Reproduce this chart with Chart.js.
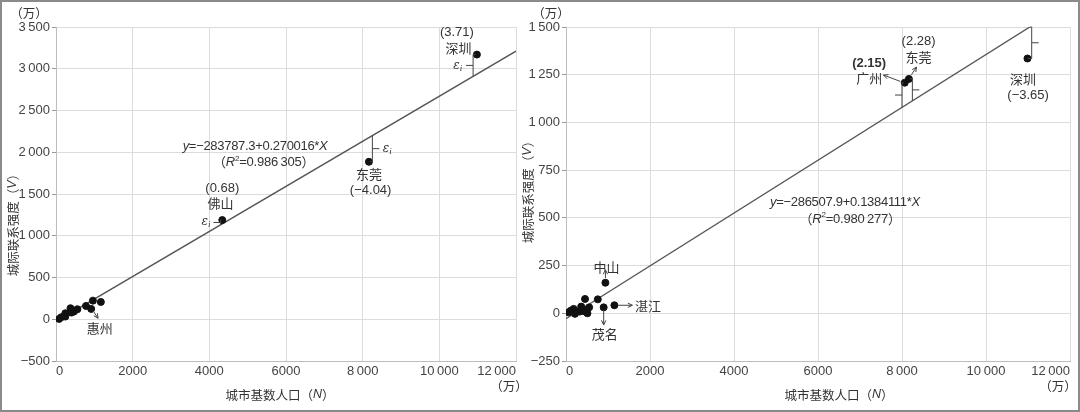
<!DOCTYPE html>
<html>
<head>
<meta charset="utf-8">
<script src="https://cdn.jsdelivr.net/npm/chart.js@4.4.1/dist/chart.umd.min.js"></script>
<style>
html, body { margin: 0; padding: 0; background: #fff; }
#frame { position: absolute; left: 0; top: 0; width: 1076px; height: 408px; border: 2px solid #8a8a8a; }
#c1 { position: absolute; left: 0; top: 0; }
#c2 { position: absolute; left: 500px; top: 0; }
</style>
</head>
<body>
<div id="frame"></div>
<canvas id="c1" width="540" height="412" style="width:540px;height:412px"></canvas>
<canvas id="c2" width="580" height="412" style="width:580px;height:412px"></canvas>
<script>
// tick values and labels
const xTickValues = [0, 2000, 4000, 6000, 8000, 10000, 12000];
const xTickText = ['0', '2000', '4000', '6000', '8\u2009000', '10\u2009000', '12\u2009000'];
const leftYTickValues = [-500, 0, 500, 1000, 1500, 2000, 2500, 3000, 3500];
const leftYTickText = ['\u2212500', '0', '500', '1\u2009000', '1\u2009500', '2\u2009000', '2\u2009500', '3\u2009000', '3\u2009500'];
const rightYTickValues = [-250, 0, 250, 500, 750, 1000, 1250, 1500];
const rightYTickText = ['\u2212250', '0', '250', '500', '750', '1\u2009000', '1\u2009250', '1\u2009500'];

// left panel: city population (N) vs link strength (V)
const leftX = [81, 135, 243, 243, 378, 405, 468, 558, 783, 963, 918, 1170, 4338, 8163, 10980];
const leftY = [4, 24, 72, 32, 132, 80, 92, 120, 159, 223, 124, 207, 1188, 1886, 3170];
const leftFitX = [0, 12000];
const leftFitY = [-28.4, 3211.8];

// right panel
const rightX = [58, 115, 181, 214, 263, 329, 362, 387, 453, 453, 510, 551, 757, 897, 938, 1152, 8065, 8164, 10987];
const rightY = [5, 14, 23, -3, 9, 9, 35, 21, 75, 9, 0, 31, 73, 31, 160, 42, 1208, 1228, 1335];
const rightFitX = [0, 11044];
const rightFitY = [-28.7, 1500];

const NUM = '13px "Liberation Sans", Arial, sans-serif';
const NUMB = 'bold 13px "Liberation Sans", Arial, sans-serif';
const IT = 'italic 13px "Liberation Sans", Arial, sans-serif';
const SUP = '8px "Liberation Sans", Arial, sans-serif';
const CJK = '13px "Noto Sans CJK SC", sans-serif';
const TIT = '12.5px "Noto Sans CJK SC", sans-serif';
const TITIT = 'italic 12.5px "Liberation Sans", Arial, sans-serif';

const pts = (xs, ys) => xs.map((x, i) => ({ x: x, y: ys[i] }));

function drawRich(ctx, parts, x, y, align) {
    let w = 0;
    parts.forEach(p => { ctx.font = p[1]; w += ctx.measureText(p[0]).width; });
    let cx = align === 'center' ? x - w / 2 : (align === 'right' ? x - w : x);
    parts.forEach(p => {
        ctx.font = p[1];
        ctx.fillText(p[0], cx, y + (p[2] || 0));
        cx += ctx.measureText(p[0]).width;
    });
}

function arrow(ctx, x1, y1, x2, y2) {
    const a = Math.atan2(y2 - y1, x2 - x1);
    ctx.beginPath();
    ctx.moveTo(x1, y1);
    ctx.lineTo(x2, y2);
    ctx.moveTo(x2 - 5 * Math.cos(a - 0.45), y2 - 5 * Math.sin(a - 0.45));
    ctx.lineTo(x2, y2);
    ctx.lineTo(x2 - 5 * Math.cos(a + 0.45), y2 - 5 * Math.sin(a + 0.45));
    ctx.stroke();
}

const eqParts = (a, b) => [['y', IT], ['=\u2212' + a + '+' + b + '*', NUM], ['X', IT]];
const r2Parts = (r) => [['\uff08', CJK], ['R', IT], ['2', SUP, -4], ['=' + r, NUM], ['\uff09', CJK]];

function makeNotes(notes) {
    return {
        id: 'notes',
        afterDatasetsDraw(chart) {
            const ctx = chart.ctx;
            const sx = v => chart.scales.x.getPixelForValue(v);
            const sy = v => chart.scales.y.getPixelForValue(v);
            ctx.save();
            ctx.fillStyle = '#333';
            ctx.strokeStyle = '#444';
            ctx.lineWidth = 1;
            ctx.textBaseline = 'middle';
            ctx.textAlign = 'left';
            notes.texts.forEach(t => {
                ctx.letterSpacing = t.ls || '0px';
                drawRich(ctx, t.parts, sx(t.x), sy(t.y), 'center');
            });
            ctx.letterSpacing = '0px';
            notes.eps.forEach(e => {
                drawRich(ctx, [['\u03b5', 'italic 12px "DejaVu Serif", serif'], ['i', 'italic 9px "Liberation Serif", serif', 3]], sx(e.x), sy(e.y), 'center');
            });
            notes.brackets.forEach(b => {
                const bx = sx(b.x), p1 = sy(b.y1), p2 = sy(b.y2);
                ctx.beginPath();
                if (b.h1 !== undefined) { ctx.moveTo(sx(b.h1), p1); ctx.lineTo(bx, p1); } else { ctx.moveTo(bx, p1); }
                ctx.lineTo(bx, p2);
                if (b.h2 !== undefined) ctx.lineTo(sx(b.h2), p2);
                const my = (p1 + p2) / 2;
                ctx.moveTo(bx, my);
                ctx.lineTo(bx + b.tick * 7, my);
                ctx.stroke();
            });
            notes.arrows.forEach(a => arrow(ctx, sx(a[0]), sy(a[1]), sx(a[2]), sy(a[3])));
            // axis titles and units (canvas pixels)
            const tt = notes.titles;
            drawRich(ctx, [['\u57ce\u5e02\u57fa\u6570\u4eba\u53e3\uff08', TIT], ['N', TITIT], ['\uff09', TIT]], tt.xt[0], tt.xt[1], 'center');
            ctx.save();
            ctx.translate(tt.yt[0], tt.yt[1]);
            ctx.rotate(-Math.PI / 2);
            drawRich(ctx, [['\u57ce\u9645\u8054\u7cfb\u5f3a\u5ea6\uff08', TIT], ['V', TITIT], ['\uff09', TIT]], 0, 0, 'center');
            ctx.restore();
            drawRich(ctx, [['\uff08\u4e07\uff09', TIT]], tt.u1[0], tt.u1[1], 'center');
            drawRich(ctx, [['\uff08\u4e07\uff09', TIT]], tt.u2[0], tt.u2[1], 'center');
            ctx.restore();
        }
    };
}

const leftNotes = {
    texts: [
        { x: 10458, y: 3433, parts: [['(3.71)', NUM]] },
        { x: 10503, y: 3249, parts: [['\u6df1\u5733', CJK]] },
        { x: 8163, y: 1738, parts: [['\u4e1c\u839e', CJK]] },
        { x: 8208, y: 1547, parts: [['(\u22124.04)', NUM]] },
        { x: 4338, y: 1567, parts: [['(0.68)', NUM]] },
        { x: 4293, y: 1387, parts: [['\u4f5b\u5c71', CJK]] },
        { x: 1143, y: -108, parts: [['\u60e0\u5dde', CJK]] },
        { x: 5193, y: 2073, parts: eqParts('283787.3', '0.270016'), ls: '-0.3px' },
        { x: 5418, y: 1878, parts: r2Parts('0.986\u2009305'), ls: '-0.2px' }
    ],
    eps: [{ x: 10480, y: 3040 }, { x: 8640, y: 2043 }, { x: 3915, y: 1172 }],
    brackets: [
        { x: 10881, y1: 3170, y2: 2910, h1: 10950, tick: -1 },
        { x: 8253, y1: 2200, y2: 1886, h2: 8190, tick: 1 },
        { x: 4290, y1: 1188, y2: 1130, h1: 4320, tick: -1 }
    ],
    arrows: [[960, 105, 1098, 12]],
    titles: { xt: [280, 395], yt: [13, 222], u1: [29, 13], u2: [509, 386] }
};

const rightNotes = {
    texts: [
        { x: 8395, y: 1422, parts: [['(2.28)', NUM]] },
        { x: 8395, y: 1340, parts: [['\u4e1c\u839e', CJK]] },
        { x: 7218, y: 1309, parts: [['(2.15)', NUMB]] },
        { x: 7218, y: 1234, parts: [['\u5e7f\u5dde', CJK]] },
        { x: 10880, y: 1225, parts: [['\u6df1\u5733', CJK]] },
        { x: 11003, y: 1143, parts: [['(\u22123.65)', NUM]] },
        { x: 963, y: 244, parts: [['\u4e2d\u5c71', CJK]] },
        { x: 1950, y: 40, parts: [['\u6e5b\u6c5f', CJK]] },
        { x: 922, y: -110, parts: [['\u8302\u540d', CJK]] },
        { x: 6642, y: 581, parts: eqParts('286507.9', '0.1384111'), ls: '-0.3px' },
        { x: 6765, y: 494, parts: r2Parts('0.980\u2009277'), ls: '-0.2px' }
    ],
    eps: [],
    brackets: [
        { x: 8000, y1: 1208, y2: 1079, h1: 8040, tick: -1 },
        { x: 8247, y1: 1228, y2: 1113, h1: 8190, tick: 1 },
        { x: 11088, y1: 1500, y2: 1335, h1: 11044, h2: 10990, tick: 1 }
    ],
    arrows: [[8225, 1250, 8345, 1290], [7960, 1215, 7560, 1248], [938, 185, 938, 228], [1240, 42, 1580, 42], [897, 18, 897, -61]],
    titles: { xt: [339, 395], yt: [28, 189], u1: [51, 13], u2: [558, 386] }
};

const tickFont = { family: '"Liberation Sans", Arial, sans-serif', size: 13 };

const crearPanel = (id, xs, ys, fx, fy, yMin, yMax, yVals, yText, yWidth, padRight, notes) => {
    return new Chart(document.getElementById(id), {
        type: 'scatter',
        data: {
            datasets: [
                {
                    data: pts(xs, ys),
                    backgroundColor: '#111',
                    borderColor: '#111',
                    pointRadius: 3.5,
                    order: 0
                },
                {
                    data: pts(fx, fy),
                    showLine: true,
                    borderColor: '#555',
                    borderWidth: 1.4,
                    pointRadius: 0,
                    order: 1
                }
            ]
        },
        options: {
            responsive: false,
            animation: false,
            layout: { padding: { left: 0, right: padRight, top: 27, bottom: 0 } },
            plugins: { legend: { display: false }, tooltip: { enabled: false } },
            scales: {
                x: {
                    type: 'linear',
                    min: 0,
                    max: 12000,
                    afterBuildTicks: s => { s.ticks = xTickValues.map(v => ({ value: v })); },
                    afterFit: s => { s.height = 51; },
                    ticks: { callback: (v, i) => xTickText[i], align: 'inner', maxRotation: 0, autoSkip: false, font: tickFont, color: '#444', padding: 3 },
                    grid: { color: '#dcdcdc', drawTicks: false },
                    border: { color: '#bdbdbd' }
                },
                y: {
                    type: 'linear',
                    min: yMin,
                    max: yMax,
                    afterBuildTicks: s => { s.ticks = yVals.map(v => ({ value: v })); },
                    afterFit: s => { s.width = yWidth; },
                    ticks: { callback: (v, i) => yText[i], autoSkip: false, font: tickFont, color: '#444', padding: 2 },
                    grid: { color: '#dcdcdc', tickLength: 4, tickColor: '#999' },
                    border: { color: '#bdbdbd' }
                }
            }
        },
        plugins: [makeNotes(notes)]
    });
};

crearPanel('c1', leftX, leftY, leftFitX, leftFitY, -500, 3500, leftYTickValues, leftYTickText, 56, 24, leftNotes);
crearPanel('c2', rightX, rightY, rightFitX, rightFitY, -250, 1500, rightYTickValues, rightYTickText, 66, 10, rightNotes);
</script>
</body>
</html>
